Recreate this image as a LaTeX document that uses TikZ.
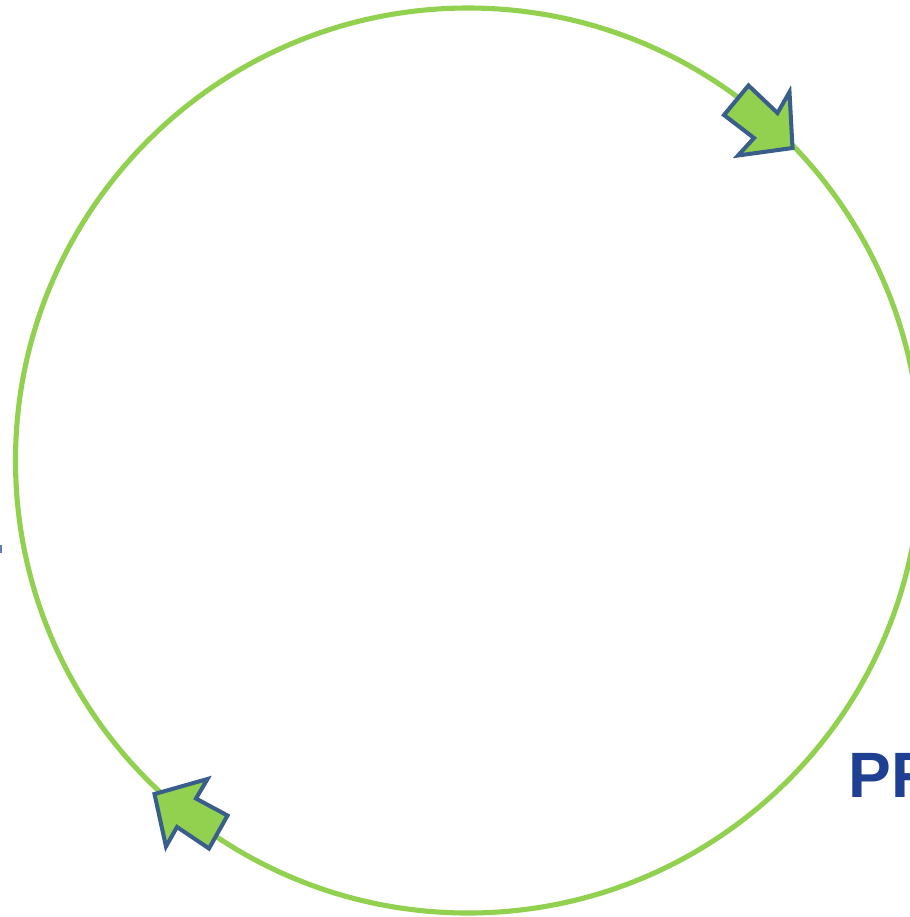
\documentclass[tikz,border=0pt]{standalone}
\usepackage{fontspec}
\setmainfont{Liberation Sans}
\usepackage{xcolor}
\definecolor{ringgreen}{HTML}{92D050}
\definecolor{arrowblue}{HTML}{3A5E8C}
\definecolor{textblue}{HTML}{1F3F93}

\begin{document}
\begin{tikzpicture}[x=0.02cm, y=-0.02cm]
  \useasboundingbox (0, 0) rectangle (910, 917);

  % --- Cycle ring ---
  \draw[ringgreen, line width=2.9pt] (468, 460.5) circle[radius=452.5];

  % --- Upper arrow (pointing down-right) ---
  \filldraw[fill=ringgreen, draw=arrowblue, line width=2.3pt, line join=miter]
    (748.5, 85.5) -- (777.5, 113) -- (789.5, 92) -- (792.5, 148)
    -- (738, 155.5) -- (754, 138) -- (724, 115) -- cycle;

  % --- Lower arrow (pointing up-left) ---
  \filldraw[fill=ringgreen, draw=arrowblue, line width=2.3pt, line join=miter]
    (154.5, 794) -- (207.5, 779) -- (196, 798.5) -- (227.5, 815.5)
    -- (209, 848.5) -- (177, 827) -- (166, 846.5) -- cycle;

  % --- Text cut by the right edge ---
  \node[anchor=base west, inner sep=0pt, text=textblue,
        font=\fontsize{36.5pt}{40pt}\selectfont\bfseries] at (848, 797) {PR};

  % --- Fragment cut by the left edge ---
  \fill[textblue!70] (0, 545) rectangle (2, 553);
\end{tikzpicture}
\end{document}
